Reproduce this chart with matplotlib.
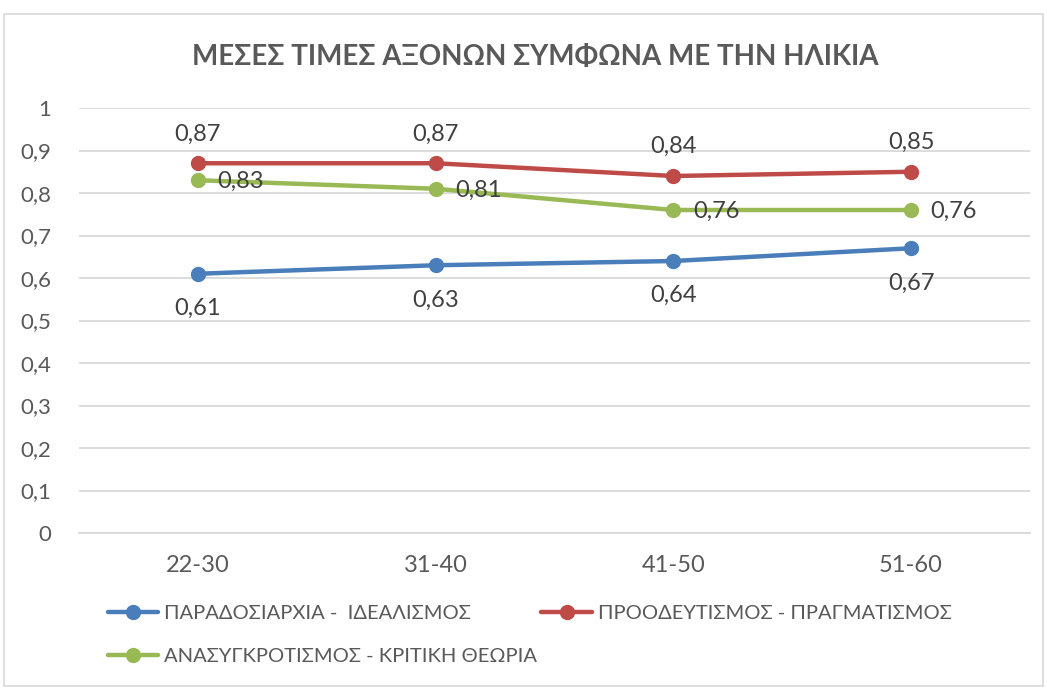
import matplotlib
matplotlib.use("Agg")
import matplotlib.pyplot as plt
from matplotlib.patches import Rectangle

categories = ["22-30", "31-40", "41-50", "51-60"]
series_names = ["ΠΑΡΑΔΟΣΙΑΡΧΙΑ -  ΙΔΕΑΛΙΣΜΟΣ",
                "ΠΡΟΟΔΕΥΤΙΣΜΟΣ - ΠΡΑΓΜΑΤΙΣΜΟΣ",
                "ΑΝΑΣΥΓΚΡΟΤΙΣΜΟΣ - ΚΡΙΤΙΚΗ ΘΕΩΡΙΑ"]
paradosiarxia = [0.61, 0.63, 0.64, 0.67]
proodeftismos = [0.87, 0.87, 0.84, 0.85]
anasygkrotismos = [0.83, 0.81, 0.76, 0.76]
yticks = [0, 0.1, 0.2, 0.3, 0.4, 0.5, 0.6, 0.7, 0.8, 0.9, 1.0]
title = "ΜΕΣΕΣ ΤΙΜΕΣ ΑΞΟΝΩΝ ΣΥΜΦΩΝΑ ΜΕ ΤΗΝ ΗΛΙΚΙΑ"

plt.rcParams['font.family'] = ['Lato', 'DejaVu Sans']
txt = '#595959'

fig = plt.figure(figsize=(10.47, 6.9), dpi=100)
fig.patches.append(Rectangle((4/1047, 4/690), 1 - 8/1047, 1 - 18/690,
                             transform=fig.transFigure, fill=False,
                             edgecolor='#d9d9d9', linewidth=1.2))
ax = fig.add_axes([79/1047, 1 - 533/690, (1030 - 79)/1047, (533 - 108)/690])

colors = ['#4a7ebb', '#be4b48', '#98b954']
data = [paradosiarxia, proodeftismos, anasygkrotismos]
x = list(range(len(categories)))
handles = []
for vals, c, name in zip(data, colors, series_names):
    h, = ax.plot(x, vals, color=c, linewidth=3.2, marker='o', markersize=10,
                 label=name, solid_capstyle='round')
    handles.append(h)

def fmt(v):
    return f"{v:.2f}".replace('.', ',')

lab = '#404040'
for xi, v in zip(x, paradosiarxia):
    ax.annotate(fmt(v), (xi, v), xytext=(0, -25), textcoords='offset points',
                ha='center', va='center', fontsize=17, color=lab)
for xi, v in zip(x, proodeftismos):
    ax.annotate(fmt(v), (xi, v), xytext=(0, 21), textcoords='offset points',
                ha='center', va='center', fontsize=17, color=lab)
for xi, v in zip(x, anasygkrotismos):
    ax.annotate(fmt(v), (xi, v), xytext=(14, -1), textcoords='offset points',
                ha='left', va='center', fontsize=17, color=lab)

ax.set_xlim(-0.5, 3.5)
ax.set_ylim(0, 1)
ax.set_xticks(x)
ax.set_xticklabels(categories)
ax.set_yticks(yticks)
ax.set_yticklabels([("0" if t == 0 else ("1" if t == 1 else f"{t:.1f}".replace('.', ','))) for t in yticks])
ax.tick_params(axis='both', length=0, labelcolor=txt)
ax.tick_params(axis='x', pad=16, labelsize=17)
ax.tick_params(axis='y', pad=20, labelsize=16)
ax.grid(axis='y', color='#d9d9d9', linewidth=1.3)
ax.set_axisbelow(True)
for s in ['top', 'right', 'left']:
    ax.spines[s].set_visible(False)
ax.spines['bottom'].set_color('#d9d9d9')
ax.spines['bottom'].set_linewidth(1.3)

fig.text(0.511, 1 - 57/690, title, ha='center', va='center', fontsize=20,
         color=txt, fontweight='bold')

leg = fig.legend([handles[0], handles[2], handles[1]],
                 [series_names[0], series_names[2], series_names[1]],
                 ncol=2, loc='upper left', bbox_to_anchor=(108/1047, 1 - 605/690),
                 frameon=False, fontsize=14.5, labelcolor=txt, handlelength=2.5,
                 handletextpad=0.3, columnspacing=0.2, labelspacing=1.3,
                 borderaxespad=0, borderpad=0)

fig.savefig("out.png", dpi=100, facecolor='white')
